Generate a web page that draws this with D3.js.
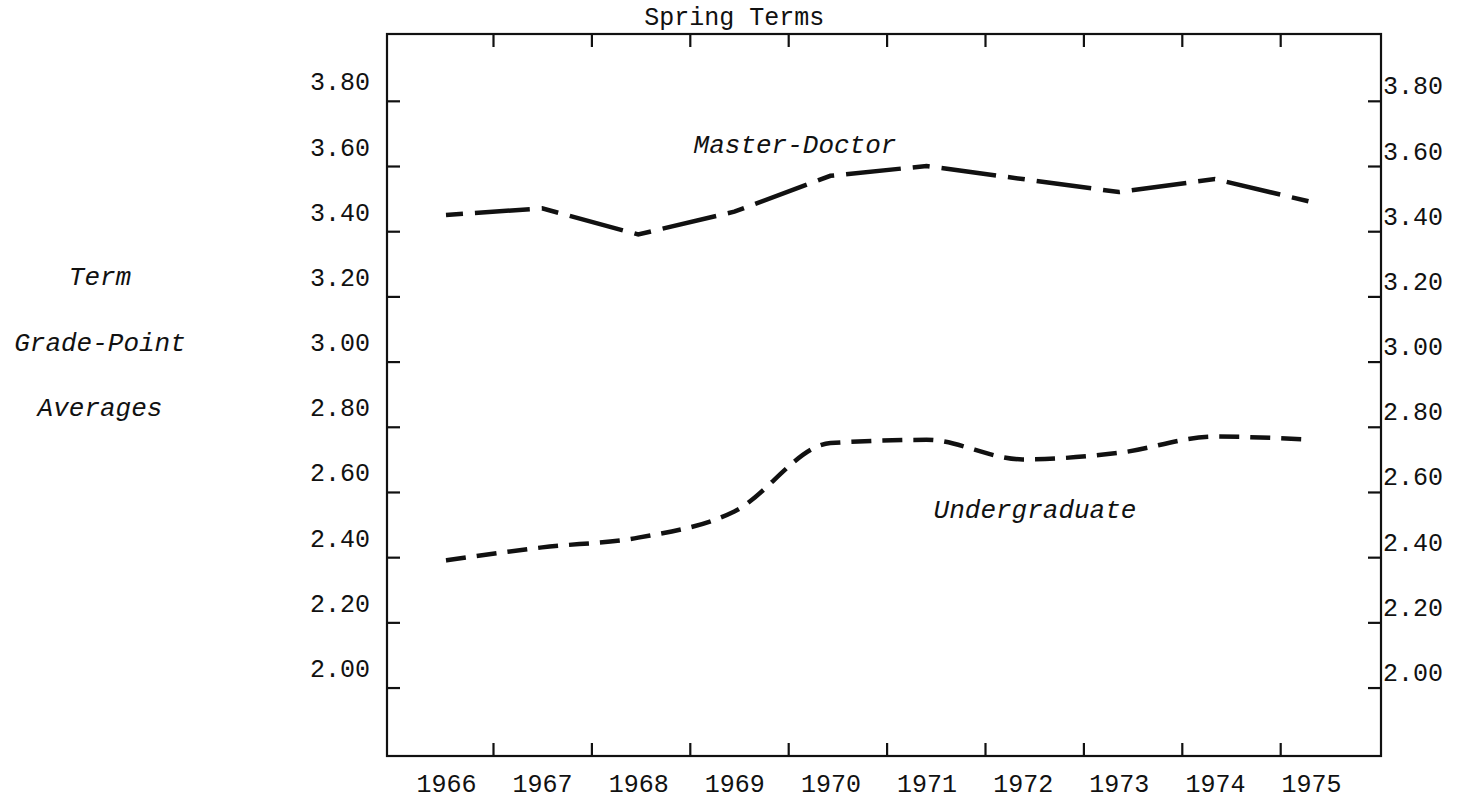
<!DOCTYPE html>
<html>
<head>
<meta charset="utf-8">
<script src="https://cdn.jsdelivr.net/npm/d3@7"></script>
<style>
  body { margin: 0; background: #fff; }
  text { font-family: 'Liberation Mono', 'DejaVu Sans Mono', monospace; fill: #111; }
</style>
</head>
<body>
<div id="chart"></div>
<script>
// Term grade-point averages, spring terms

const years = ['1966', '1967', '1968', '1969', '1970', '1971', '1972', '1973', '1974', '1975']
const masterDoctor = [3.45, 3.47, 3.39, 3.46, 3.57, 3.60, 3.56, 3.52, 3.56, 3.49]
const undergraduate = [2.39, 2.43, 2.46, 2.54, 2.75, 2.76, 2.70, 2.72, 2.77, 2.76]
const yTicks = [2.0, 2.2, 2.4, 2.6, 2.8, 3.0, 3.2, 3.4, 3.6, 3.8]
const yTitle = ['Term', 'Grade-Point', 'Averages']

const width = 1463
const height = 800

const box = { left: 387, right: 1381, top: 34, bottom: 756 }

const svg = d3
  .select('#chart')
  .append('svg')
  .attr('width', width)
  .attr('height', height)

// year labels + data sit on a point scale, the tick marks between years on a linear one
const xPositionScale = d3
  .scalePoint()
  .domain(years)
  .range([446, 1311])

const xEdgeScale = d3
  .scaleLinear()
  .domain([1965.5, 1975.5])
  .range([394.6, 1378.6])

const yPositionScale = d3
  .scaleLinear()
  .domain([1.79, 4.005])
  .range([box.bottom, box.top])

const edges = d3.range(1966.5, 1975, 1)

// frame
svg
  .append('rect')
  .attr('x', box.left)
  .attr('y', box.top)
  .attr('width', box.right - box.left)
  .attr('height', box.bottom - box.top)
  .attr('fill', 'none')
  .attr('stroke', '#111')
  .attr('stroke-width', 2.2)

// left axis
const yAxisLeft = d3
  .axisLeft(yPositionScale)
  .tickValues(yTicks)
  .tickSize(-13)
  .tickPadding(17)
  .tickFormat(d3.format('.2f'))

svg
  .append('g')
  .attr('class', 'axis y-left')
  .attr('transform', 'translate(' + box.left + ',0)')
  .call(yAxisLeft)

svg.select('.y-left').selectAll('text').attr('dy', -11)

// right axis
const yAxisRight = d3
  .axisRight(yPositionScale)
  .tickValues(yTicks)
  .tickSize(-13)
  .tickPadding(2)
  .tickFormat(d3.format('.2f'))

svg
  .append('g')
  .attr('class', 'axis y-right')
  .attr('transform', 'translate(' + box.right + ',0)')
  .call(yAxisRight)

svg.select('.y-right').selectAll('text').attr('dy', -7)

// tick marks between the years, top and bottom
svg
  .append('g')
  .attr('class', 'axis x-bottom')
  .attr('transform', 'translate(0,' + box.bottom + ')')
  .call(d3.axisBottom(xEdgeScale).tickValues(edges).tickSize(-13).tickFormat(''))

svg
  .append('g')
  .attr('class', 'axis x-top')
  .attr('transform', 'translate(0,' + box.top + ')')
  .call(d3.axisTop(xEdgeScale).tickValues(edges).tickSize(-13).tickFormat(''))

// year labels
svg
  .append('g')
  .attr('class', 'axis x-labels')
  .attr('transform', 'translate(0,' + box.bottom + ')')
  .call(d3.axisBottom(xPositionScale).tickSize(0))

svg.select('.x-labels').selectAll('text').attr('y', 36).attr('dy', 0)

svg.selectAll('.axis .domain').remove()
svg.selectAll('.axis line').attr('stroke', '#111').attr('stroke-width', 2.2)
svg
  .selectAll('.axis text')
  .attr('font-family', "'Liberation Mono', 'DejaVu Sans Mono', monospace")
  .attr('font-size', 25)
  .attr('fill', '#111')

// lines
const line = d3
  .line()
  .x(d => xPositionScale(d.year))
  .y(d => yPositionScale(d.value))

const masterData = years.map((y, i) => ({ year: y, value: masterDoctor[i] }))
const underData = years.map((y, i) => ({ year: y, value: undergraduate[i] }))

svg
  .append('path')
  .datum(masterData)
  .attr('class', 'master-line')
  .attr('d', line.curve(d3.curveLinear))
  .attr('fill', 'none')
  .attr('stroke', '#111')
  .attr('stroke-width', 4.5)
  .attr('stroke-dasharray', '17,12,55,12')

svg
  .append('path')
  .datum(underData)
  .attr('class', 'under-line')
  .attr('d', line.curve(d3.curveMonotoneX))
  .attr('fill', 'none')
  .attr('stroke', '#111')
  .attr('stroke-width', 4.5)
  .attr('stroke-dasharray', '20,11')

// labels
svg
  .append('text')
  .attr('font-size', 25)
  .attr('text-anchor', 'middle')
  .attr('x', xPositionScale('1969'))
  .attr('y', 25)
  .text('Spring Terms')

svg
  .append('text')
  .attr('font-size', 26)
  .attr('font-style', 'italic')
  .attr('text-anchor', 'middle')
  .attr('x', 795)
  .attr('y', 153)
  .text('Master-Doctor')

svg
  .append('text')
  .attr('font-size', 26)
  .attr('font-style', 'italic')
  .attr('text-anchor', 'middle')
  .attr('x', 1035)
  .attr('y', 518)
  .text('Undergraduate')

svg
  .selectAll('.y-title')
  .data(yTitle)
  .enter()
  .append('text')
  .attr('class', 'y-title')
  .attr('font-size', 26)
  .attr('font-style', 'italic')
  .attr('text-anchor', 'middle')
  .attr('x', 100)
  .attr('y', (d, i) => yPositionScale(3.2 - i * 0.2) - 11)
  .text(d => d)
</script>
</body>
</html>
